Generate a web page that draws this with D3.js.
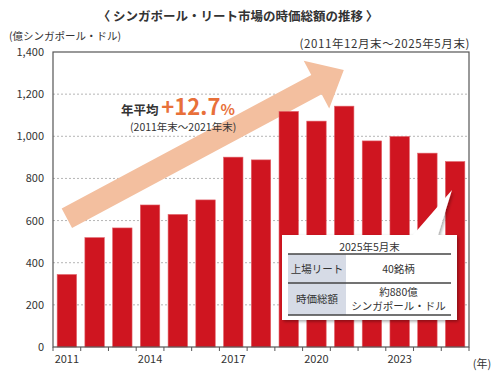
<!DOCTYPE html>
<html>
<head>
<meta charset="utf-8">
<script src="https://cdn.jsdelivr.net/npm/d3@7"></script>
<style>
  body { margin: 0; background: #fff; }
  svg { display: block; font-family: "Noto Sans CJK JP", "Noto Sans", sans-serif; }
</style>
</head>
<body>
<div id="chart"></div>
<script>
// data (億シンガポール・ドル, 年末 / 2025は5月末)
var years = ["2011", "2012", "2013", "2014", "2015", "2016", "2017", "2018",
             "2019", "2020", "2021", "2022", "2023", "2024", "2025"];
var values = [344, 519, 565, 674, 629, 698, 901, 888, 1118, 1072, 1143, 978, 999, 920, 880];
var yTicks = [0, 200, 400, 600, 800, 1000, 1200, 1400];
var yearLabels = ["2011", "2014", "2017", "2020", "2023"];
var tableRows = [
    { head: "上場リート", body: ["40銘柄"] },
    { head: "時価総額", body: ["約880億", "シンガポール・ドル"] }
];

var width = 497, height = 375;
var margin = { top: 52, right: 28, bottom: 28, left: 53 };
var textColor = "#333";

var svg = d3.select("#chart").append("svg")
    .attr("width", width)
    .attr("height", height);

var defs = svg.append("defs");
var shadow = defs.append("filter").attr("id", "shadow")
    .attr("x", "-10%").attr("y", "-10%").attr("width", "125%").attr("height", "130%");
shadow.append("feDropShadow")
    .attr("dx", 1.5).attr("dy", 1.5).attr("stdDeviation", 1.5)
    .attr("flood-color", "#000").attr("flood-opacity", 0.35);

var x = d3.scaleBand()
    .domain(years)
    .range([margin.left, width - margin.right])
    .paddingInner(0.3)
    .paddingOuter(0.15);

var y = d3.scaleLinear()
    .domain([0, 1400])
    .range([height - margin.bottom, margin.top]);

// title
svg.append("text")
    .attr("x", 238).attr("y", 21)
    .attr("text-anchor", "middle")
    .attr("font-size", 12.5).attr("font-weight", "bold")
    .style("fill", textColor)
    .text("〈 シンガポール・リート市場の時価総額の推移 〉");

svg.append("text")
    .attr("x", 9).attr("y", 40)
    .attr("font-size", 10.5)
    .style("fill", textColor)
    .text("(億シンガポール・ドル)");

svg.append("text")
    .attr("x", width - margin.right + 1).attr("y", 48)
    .attr("text-anchor", "end")
    .attr("font-size", 11.5)
    .attr("letter-spacing", 0.6)
    .style("fill", textColor)
    .text("(2011年12月末～2025年5月末)");

// grid
svg.append("g").selectAll("line")
    .data(yTicks.filter(function (d) { return d > 0 && d < 1400; }))
    .enter().append("line")
    .attr("x1", margin.left).attr("x2", width - margin.right)
    .attr("y1", function (d) { return y(d); })
    .attr("y2", function (d) { return y(d); })
    .style("stroke", "#b5b5b5")
    .style("stroke-width", 1)
    .style("stroke-dasharray", "2,2");

// arrow (in data space: from 2011 to 2020)
var a0 = [x("2011") + x.bandwidth() / 2, y(611)];
var a1 = [x("2020") + x.bandwidth() / 2, y(1245)];
var alen = Math.hypot(a1[0] - a0[0], a1[1] - a0[1]);
var aang = Math.atan2(a1[1] - a0[1], a1[0] - a0[0]) * 180 / Math.PI;
svg.append("path")
    .attr("transform", "translate(" + a0[0] + "," + a0[1] + ") rotate(" + aang + ")")
    .attr("d", "M0,-11 L" + alen + ",-11 L" + alen + ",-27 L" + (alen + 31) + ",0 L" + alen + ",27 L" + alen + ",11 L0,11 Z")
    .style("fill", "#f3bf9f");

// bars
svg.append("g").selectAll("rect")
    .data(values)
    .enter().append("rect")
    .attr("x", function (d, i) { return x(years[i]); })
    .attr("y", function (d) { return y(d); })
    .attr("width", x.bandwidth())
    .attr("height", function (d) { return y(0) - y(d); })
    .style("fill", "#cf1520")
    .style("stroke", "#e2636a")
    .style("stroke-width", 0.6);

// frame
svg.append("rect")
    .attr("x", margin.left).attr("y", margin.top)
    .attr("width", width - margin.left - margin.right)
    .attr("height", height - margin.top - margin.bottom)
    .style("fill", "none")
    .style("stroke", "#555")
    .style("stroke-width", 1.2);

// x ticks at band boundaries
var x0 = x.range()[0];
svg.append("g").selectAll("line")
    .data(d3.range(years.length + 1))
    .enter().append("line")
    .attr("x1", function (i) { return x0 + i * x.step(); })
    .attr("x2", function (i) { return x0 + i * x.step(); })
    .attr("y1", y(0)).attr("y2", y(0) + 4)
    .style("stroke", "#555").style("stroke-width", 1);

var xAxis = svg.append("g")
    .attr("transform", "translate(0," + y(0) + ")")
    .call(d3.axisBottom(x).tickSize(0).tickPadding(8)
        .tickFormat(function (d) { return yearLabels.indexOf(d) >= 0 ? d : ""; }));
xAxis.select(".domain").remove();
xAxis.selectAll("text").attr("font-size", 11).style("fill", textColor)
    .style("font-family", "'Noto Sans CJK JP', sans-serif");

svg.append("text")
    .attr("x", 482).attr("y", 368)
    .attr("text-anchor", "middle")
    .attr("font-size", 11)
    .style("fill", textColor)
    .text("(年)");

var yAxis = svg.append("g")
    .attr("transform", "translate(" + margin.left + ",0)")
    .call(d3.axisLeft(y).tickValues(yTicks).tickSize(0).tickPadding(9).tickFormat(d3.format(",")));
yAxis.select(".domain").remove();
yAxis.selectAll("text").attr("font-size", 11).style("fill", textColor)
    .style("font-family", "'Noto Sans CJK JP', sans-serif");

// annotation
var ann = svg.append("text").attr("x", 121).attr("y", 115);
ann.append("tspan").attr("font-size", 12.5).attr("font-weight", "bold").style("fill", textColor).text("年平均 ");
ann.append("tspan").attr("font-size", 22).attr("font-weight", "bold").style("fill", "#e8703a").text("+12.7");
ann.append("tspan").attr("font-size", 15).attr("font-weight", "bold").style("fill", "#e8703a").text("%");

svg.append("text")
    .attr("x", 130).attr("y", 131)
    .attr("font-size", 10.5)
    .style("fill", textColor)
    .text("(2011年末～2021年末)");

// info box
var bx = 282, by = 235, bw = 175, bh = 85;
var box = svg.append("g");
box.append("path")
    .attr("d", "M" + bx + "," + by + " L413," + by + " L452,190 L438," + by + " L" + (bx + bw) + "," + by +
        " L" + (bx + bw) + "," + (by + bh) + " L" + bx + "," + (by + bh) + " Z")
    .style("fill", "#fff")
    .attr("filter", "url(#shadow)");

var tl = 288, tr = 451, tm = 346;
var rowY = [254, 283, 315];
box.append("text")
    .attr("x", (tl + tr) / 2).attr("y", 251)
    .attr("text-anchor", "middle").attr("font-size", 10.5)
    .style("fill", textColor)
    .text("2025年5月末");

box.selectAll("rect.head")
    .data(tableRows)
    .enter().append("rect")
    .attr("class", "head")
    .attr("x", tl).attr("y", function (d, i) { return rowY[i]; })
    .attr("width", tm - tl)
    .attr("height", function (d, i) { return rowY[i + 1] - rowY[i]; })
    .style("fill", "#d6dbe6");

box.selectAll("line.rule")
    .data(rowY)
    .enter().append("line")
    .attr("class", "rule")
    .attr("x1", tl).attr("x2", tr)
    .attr("y1", function (d) { return d; }).attr("y2", function (d) { return d; })
    .style("stroke", "#444").style("stroke-width", 1.3);

tableRows.forEach(function (r, i) {
    var mid = (rowY[i] + rowY[i + 1]) / 2;
    box.append("text")
        .attr("x", (tl + tm) / 2).attr("y", mid + 4)
        .attr("text-anchor", "middle").attr("font-size", 10.5)
        .style("fill", textColor)
        .text(r.head);
    r.body.forEach(function (t, j) {
        box.append("text")
            .attr("x", (tm + tr) / 2)
            .attr("y", mid + 4 + (j - (r.body.length - 1) / 2) * 14)
            .attr("text-anchor", "middle").attr("font-size", 10.5)
            .style("fill", textColor)
            .text(t);
    });
});
</script>
</body>
</html>
